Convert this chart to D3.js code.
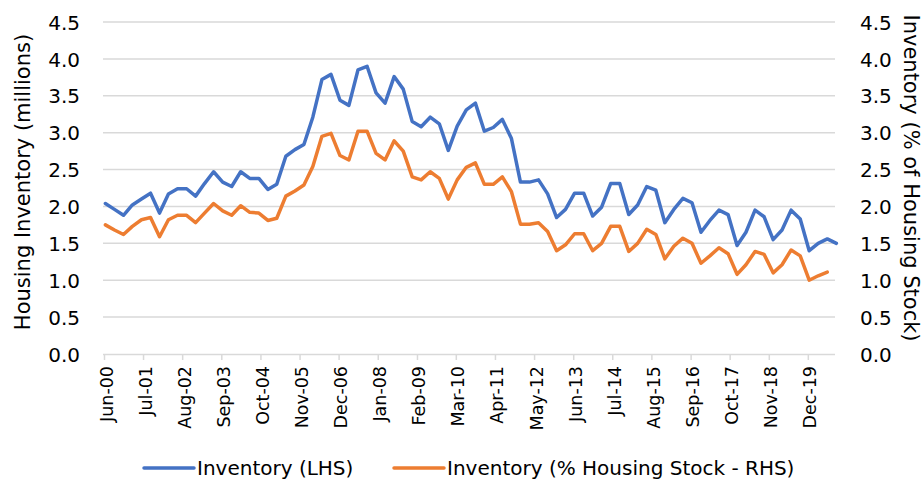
<!DOCTYPE html>
<html><head><meta charset="utf-8">
<script src="https://cdn.jsdelivr.net/npm/d3@7"></script>
<style>
body{margin:0;background:#fff}
svg{display:block}
text{font-family:"DejaVu Sans",sans-serif;fill:#000}
</style>
</head><body>
<svg id="c" width="923" height="488"></svg>
<script>
const quarters = [
"2000-06","2000-09","2000-12",
"2001-03","2001-06","2001-09","2001-12","2002-03","2002-06","2002-09","2002-12",
"2003-03","2003-06","2003-09","2003-12","2004-03","2004-06","2004-09","2004-12",
"2005-03","2005-06","2005-09","2005-12","2006-03","2006-06","2006-09","2006-12",
"2007-03","2007-06","2007-09","2007-12","2008-03","2008-06","2008-09","2008-12",
"2009-03","2009-06","2009-09","2009-12","2010-03","2010-06","2010-09","2010-12",
"2011-03","2011-06","2011-09","2011-12","2012-03","2012-06","2012-09","2012-12",
"2013-03","2013-06","2013-09","2013-12","2014-03","2014-06","2014-09","2014-12",
"2015-03","2015-06","2015-09","2015-12","2016-03","2016-06","2016-09","2016-12",
"2017-03","2017-06","2017-09","2017-12","2018-03","2018-06","2018-09","2018-12",
"2019-03","2019-06","2019-09","2019-12","2020-03","2020-06","2020-09"];

const inventory = [
2.04,1.96,1.88,2.02,2.10,2.18,1.91,2.17,2.24,2.24,
2.14,2.31,2.47,2.33,2.27,2.47,2.38,2.38,2.23,2.30,
2.68,2.77,2.84,3.21,3.72,3.79,3.44,3.37,3.85,3.90,
3.54,3.40,3.76,3.59,3.15,3.08,3.21,3.12,2.76,3.09,
3.31,3.40,3.02,3.07,3.18,2.92,2.33,2.33,2.36,2.17,
1.85,1.96,2.18,2.18,1.87,1.99,2.31,2.31,1.89,2.02,
2.27,2.22,1.78,1.96,2.11,2.05,1.65,1.81,1.95,1.89,
1.47,1.65,1.95,1.86,1.55,1.68,1.95,1.83,1.40,1.50,
1.56,1.50];

const inventoryPct = [
1.75,1.68,1.62,1.73,1.82,1.85,1.59,1.82,1.88,1.88,
1.78,1.91,2.04,1.94,1.88,2.01,1.92,1.91,1.81,1.84,
2.14,2.21,2.29,2.54,2.95,2.99,2.69,2.63,3.02,3.02,
2.72,2.63,2.89,2.75,2.40,2.36,2.47,2.38,2.10,2.36,
2.53,2.59,2.30,2.30,2.40,2.20,1.76,1.76,1.78,1.66,
1.40,1.48,1.63,1.63,1.40,1.50,1.73,1.73,1.39,1.50,
1.69,1.62,1.29,1.46,1.57,1.50,1.23,1.33,1.44,1.36,
1.08,1.21,1.39,1.35,1.10,1.21,1.41,1.33,1.00,1.06,
1.11];

const tickLabels = ["Jun-00","Jul-01","Aug-02","Sep-03","Oct-04","Nov-05","Dec-06","Jan-08",
"Feb-09","Mar-10","Apr-11","May-12","Jun-13","Jul-14","Aug-15","Sep-16","Oct-17","Nov-18","Dec-19"];

const yTicks = [0,0.5,1,1.5,2,2.5,3,3.5,4,4.5];
const seriesNames = ["Inventory (LHS)","Inventory (% Housing Stock - RHS)"];
const seriesColors = ["#4472C4","#ED7D31"];
const leftTitle = "Housing Inventory (millions)";
const rightTitle = "Inventory (% of Housing Stock)";

const svg = d3.select("#c");
const parseQ = d3.timeParse("%Y-%m");
const parseTick = d3.timeParse("%b-%y");
const dates = quarters.map(q => d3.timeDay.offset(parseQ(q), 14));

const x = d3.scaleTime()
  .domain([new Date(2000,5,1), new Date(2020,8,1)])
  .range([104, 835]);
const yL = d3.scaleLinear().domain([0,4.5]).range([354,22]);
const yR = d3.scaleLinear().domain([0,4.5]).range([354,22]);

// gridlines
svg.append("g").selectAll("line")
  .data(yTicks.filter(v => v > 0))
  .join("line")
  .attr("x1", 103).attr("x2", 835)
  .attr("y1", d => yL(d)).attr("y2", d => yL(d))
  .attr("stroke", "#d9d9d9").attr("stroke-width", 1.5);

// x axis
const tickDates = tickLabels.map(t => parseTick(t));
const xAxis = svg.append("g").attr("transform", "translate(0,354)")
  .call(d3.axisBottom(x).tickValues(tickDates).tickSize(6).tickSizeOuter(0)
    .tickFormat((d,i) => tickLabels[i]));
xAxis.select(".domain").attr("stroke", "#d9d9d9").attr("stroke-width", 1.5)
  .attr("d", "M103,0.5H835");
xAxis.selectAll(".tick line").attr("stroke", "#d9d9d9").attr("stroke-width", 1.5);
xAxis.selectAll(".tick text")
  .attr("transform", "rotate(-90)")
  .attr("x", -12).attr("y", 8).attr("dy", null)
  .attr("text-anchor", "end")
  .style("font-size", "17.5px")
  .style("font-family", "'DejaVu Sans',sans-serif")
  .attr("fill", "#000");

// left axis
const yAxisL = svg.append("g").attr("transform", "translate(104,0)")
  .call(d3.axisLeft(yL).tickValues(yTicks).tickSize(0).tickFormat(d3.format(".1f")));
yAxisL.select(".domain").remove();
yAxisL.selectAll("text").attr("x", -24).attr("dy", "0.36em")
  .style("font-size", "20px").style("font-family", "'DejaVu Sans',sans-serif").attr("fill","#000");

// right axis
const yAxisR = svg.append("g").attr("transform", "translate(835,0)")
  .call(d3.axisRight(yR).tickValues(yTicks).tickSize(0).tickFormat(d3.format(".1f")));
yAxisR.select(".domain").remove();
yAxisR.selectAll("text").attr("x", 25).attr("dy", "0.36em")
  .style("font-size", "20px").style("font-family", "'DejaVu Sans',sans-serif").attr("fill","#000");

// titles
svg.append("text").attr("transform", "translate(30,182) rotate(-90)")
  .attr("text-anchor", "middle").style("font-size", "21px").text(leftTitle);
svg.append("text").attr("transform", "translate(904,178) rotate(90)")
  .attr("text-anchor", "middle").style("font-size", "21px").text(rightTitle);

// lines
const lineL = d3.line().x((d,i) => x(dates[i])).y(d => yL(d));
const lineR = d3.line().x((d,i) => x(dates[i])).y(d => yR(d));
svg.append("path").datum(inventory).attr("d", lineL)
  .attr("fill", "none").attr("stroke", seriesColors[0]).attr("stroke-width", 3.5)
  .attr("stroke-linejoin", "round").attr("stroke-linecap", "round");
svg.append("path").datum(inventoryPct).attr("d", lineR)
  .attr("fill", "none").attr("stroke", seriesColors[1]).attr("stroke-width", 3.5)
  .attr("stroke-linejoin", "round").attr("stroke-linecap", "round");

// legend
const legendX = [144, 394];
const lg = svg.append("g");
seriesNames.forEach((name, i) => {
  lg.append("line").attr("x1", legendX[i]).attr("x2", legendX[i] + 50)
    .attr("y1", 468).attr("y2", 468)
    .attr("stroke", seriesColors[i]).attr("stroke-width", 3.5).attr("stroke-linecap", "round");
  lg.append("text").attr("x", legendX[i] + 53).attr("y", 475)
    .style("font-size", "20px").text(name);
});
</script>
</body></html>
